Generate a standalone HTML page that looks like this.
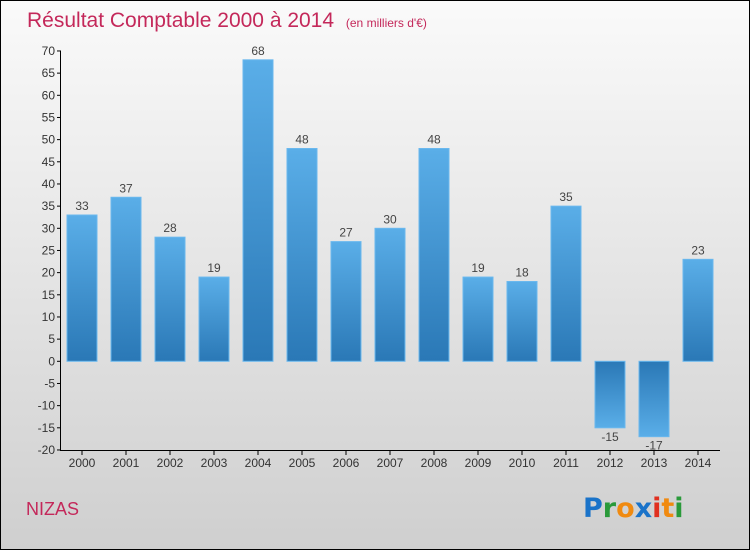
<!DOCTYPE html>
<html><head><meta charset="utf-8"><style>
body{margin:0;width:750px;height:550px;overflow:hidden;font-family:"Liberation Sans",sans-serif}
#wrap{position:absolute;left:0;top:0;width:748px;height:548px;border:1px solid #000;background:linear-gradient(#fafafa,#cfcfcf)}
</style></head><body>
<div id="wrap">
<svg id="svg" width="750" height="550" style="position:absolute;left:-1px;top:-1px">
<defs>
<linearGradient id="gp" x1="0" y1="0" x2="0" y2="1"><stop offset="0" stop-color="#5aaee8"/><stop offset="1" stop-color="#2a78b6"/></linearGradient>
<linearGradient id="gn" x1="0" y1="0" x2="0" y2="1"><stop offset="0" stop-color="#2a78b6"/><stop offset="1" stop-color="#5aaee8"/></linearGradient>
</defs>
<text x="27" y="27" font-size="21" fill="#c4285a">Résultat Comptable 2000 à 2014 <tspan font-size="12" dx="6">(en milliers d'€)</tspan></text>
<text x="26" y="515" font-size="18" fill="#c4285a">NIZAS</text>
<text x="583" y="517" font-size="27" font-family="'DejaVu Sans',sans-serif" font-weight="bold"><tspan fill="#1a73c9">P</tspan><tspan fill="#2a9a3a">r</tspan><tspan fill="#f08a10">o</tspan><tspan fill="#1a73c9">x</tspan><tspan fill="#e03020">i</tspan><tspan fill="#f08a10">t</tspan><tspan fill="#2a9a3a">i</tspan></text>
<g id="g"></g>
</svg>
</div>
<script>
const years=["2000","2001","2002","2003","2004","2005","2006","2007","2008","2009","2010","2011","2012","2013","2014"];
const values=[33,37,28,19,68,48,27,30,48,19,18,35,-15,-17,23];
const yTicks=[70,65,60,55,50,45,40,35,30,25,20,15,10,5,0,-5,-10,-15,-20];
const NS="http://www.w3.org/2000/svg";
const g=document.getElementById('g');
const y=v=>361.3-(v)*(399/90);
const x=i=>82+i*44;
function mk(t,a){const e=document.createElementNS(NS,t);for(const k in a)e.setAttribute(k,a[k]);g.appendChild(e);return e;}
values.forEach((v,i)=>{
 const r=mk('rect',{x:x(i)-15,y:Math.min(y(v),y(0)),width:30,height:Math.abs(y(v)-y(0)),fill:v>=0?'url(#gp)':'url(#gn)',stroke:'#6ab8ee','stroke-width':1});
 
 
 const t=mk('text',{x:x(i),y:v>=0?y(v)-5:y(v)+13,'font-size':12,fill:'#444','text-anchor':'middle'});
 t.textContent=v<0?'-'+Math.abs(v):v;
 
 
 mk('line',{x1:x(i),x2:x(i),y1:450,y2:455,stroke:'#000'});
 const l=mk('text',{x:x(i),y:467,'font-size':12,fill:'#333','text-anchor':'middle'});
 l.textContent=years[i];
 
 
});
yTicks.forEach(v=>{
 mk('line',{x1:57,x2:61,y1:y(v),y2:y(v),stroke:'#000'});
 const t=mk('text',{x:55,y:y(v)+4,'font-size':12,fill:'#333','text-anchor':'end'});
 t.textContent=v;
 
 
});
const ya=mk('line',{x1:60.5,x2:60.5,y1:y(70),y2:450.5,stroke:'#000'});


const xa=mk('line',{x1:60,x2:720,y1:450.5,y2:450.5,stroke:'#000'});


</script>
</body></html>
